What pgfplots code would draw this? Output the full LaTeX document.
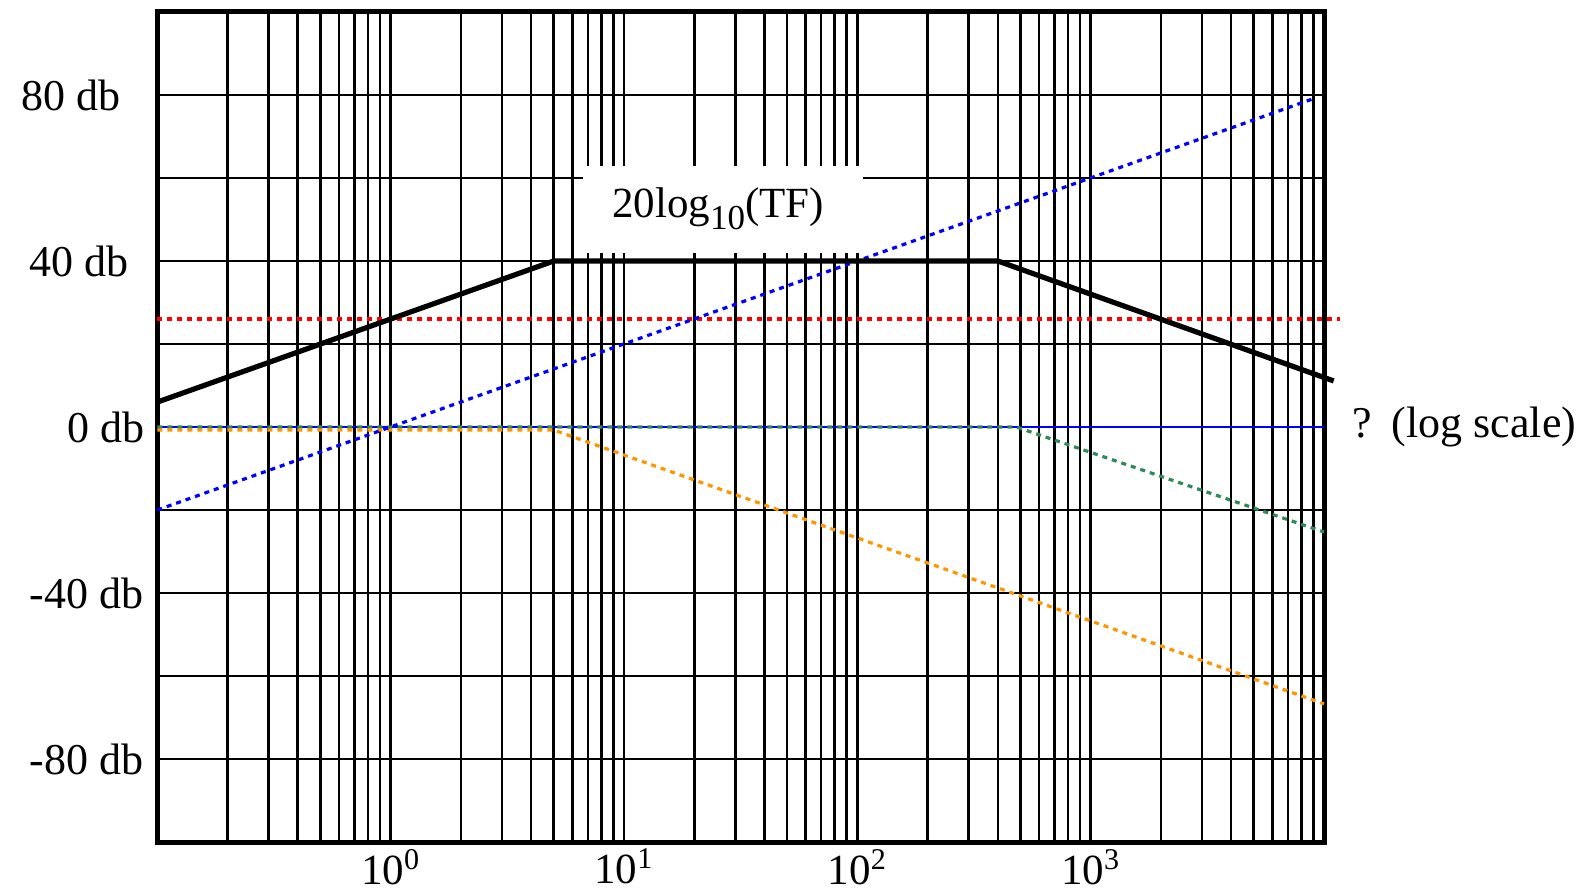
\documentclass[border=0pt]{standalone}
\usepackage{fontspec}
\setmainfont{Liberation Serif}
\usepackage{pgfplots}
\pgfplotsset{compat=1.18}
\definecolor{bodeorange}{RGB}{255,150,0}
\definecolor{bodegreen}{RGB}{46,139,87}
\begin{document}
\begin{tikzpicture}
\useasboundingbox (-78.65pt,-26.5pt) rectangle (712.35pt,421pt);
\begin{axis}[
  at={(0pt,0pt)}, anchor=south west,
  scale only axis, width=583.35pt, height=415pt,
  xmode=log, log basis x=10,
  xmin=0.1, xmax=10000, ymin=-100, ymax=100,
  clip=false,
  xtick={0.1,1,10,100,1000,10000},
  xticklabels={,10\textsuperscript{0},10\textsuperscript{1},10\textsuperscript{2},10\textsuperscript{3},},
  minor xtick={0.2,0.3,0.4,0.5,0.6,0.7,0.8,0.9,2,3,4,5,6,7,8,9,20,30,40,50,60,70,80,90,200,300,400,500,600,700,800,900,2000,3000,4000,5000,6000,7000,8000,9000},
  ytick={-100,-80,...,100},
  yticklabels={,{-80 db\rule{0.5pt}{0pt}},,{-40 db\rule{0.5pt}{0pt}},,{0 db},,{40 db\rule{8pt}{0pt}},,{80 db\rule{12pt}{0pt}},},
  /pgf/number format/assume math mode=true,
  grid=both,
  grid style={black, line width=1.3pt},
  major grid style={black, line width=1.3pt},
  minor grid style={black, line width=1.3pt},
  axis line style={black, line width=2.5pt},
  major tick length=0pt, minor tick length=0pt,
  xticklabel style={font=\fontsize{21.5}{25}\selectfont, yshift=0pt},
  yticklabel style={font=\fontsize{22}{26}\selectfont, xshift=-3pt},
]
\addplot[blue, line width=1.3pt] coordinates {(0.1,0) (10000,0)};
\addplot[bodegreen, line width=1.6pt, dash pattern=on 2.5pt off 2.5pt] coordinates {(0.1,0) (480,0) (10000,-25.3)};
\addplot[bodeorange, line width=1.6pt, dash pattern=on 2.5pt off 2.5pt, yshift=-1.5pt] coordinates {(0.1,0) (5,0) (10000,-66)};
\addplot[red, line width=2pt, dash pattern=on 2.5pt off 2.5pt] coordinates {(0.1,26) (11700,26)};
\addplot[blue, line width=1.6pt, dash pattern=on 2.5pt off 2.5pt] coordinates {(0.1,-20) (9200,79.3)};
\addplot[black, line width=2.6pt] coordinates {(0.1,6) (5,40) (400,40) (11000,11.1)};
\fill[white] (axis cs:6.68,41.9) rectangle (axis cs:105.9,62.9);
\node[anchor=base, inner sep=0pt, font=\fontsize{21.5}{25}\selectfont] at (axis cs:25.3,50.4) {20log\raisebox{-0.28em}{\fontsize{17.5}{20}\selectfont 10}(TF)};
\node[anchor=west, inner sep=0pt, xshift=14pt, font=\fontsize{22}{26}\selectfont] at (axis cs:10000,0) {?\hspace{0.45em}(log scale)};
\end{axis}
\end{tikzpicture}
\end{document}
